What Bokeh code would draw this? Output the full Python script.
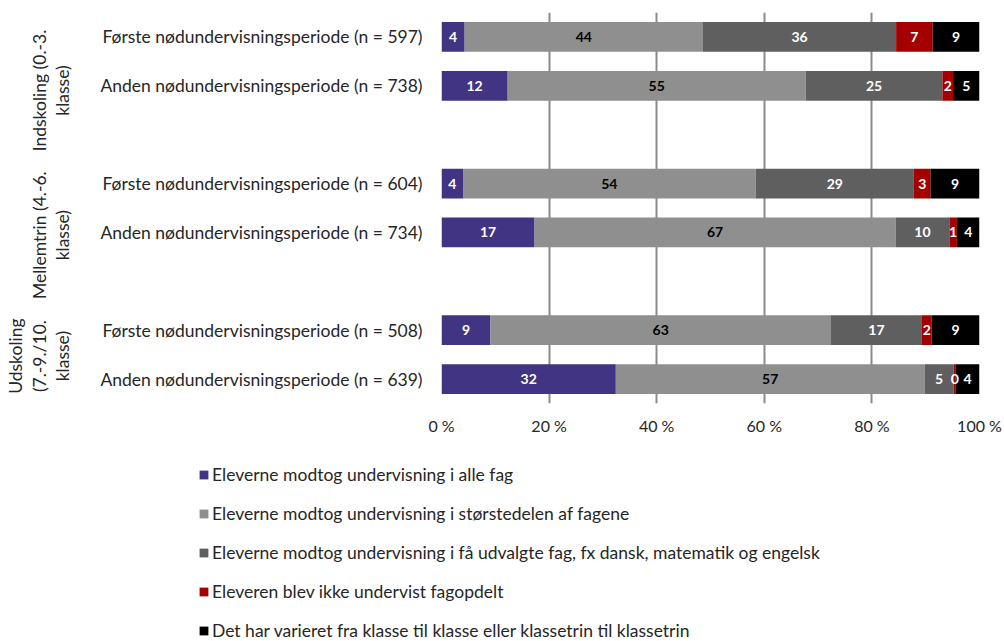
import math
from bokeh.plotting import figure
from bokeh.layouts import row, column
from bokeh.models import (ColumnDataSource, Range1d, FixedTicker, LabelSet,
                          Legend, LegendItem)
from bokeh.embed import file_html
from bokeh.resources import INLINE
from bokeh.core.properties import value

# ---------------- data ----------------
groups = ["Indskoling (0.-3.\nklasse)", "Mellemtrin (4.-6.\nklasse)", "Udskoling\n(7.-9./10.\nklasse)"]
periods = ["Første nødundervisningsperiode", "Anden nødundervisningsperiode"]
n_values = [597, 738, 604, 734, 508, 639]

categories = [
    "Eleverne modtog undervisning i alle fag",
    "Eleverne modtog undervisning i størstedelen af fagene",
    "Eleverne modtog undervisning i få udvalgte fag, fx dansk, matematik og engelsk",
    "Eleveren blev ikke undervist fagopdelt",
    "Det har varieret fra klasse til klasse eller klassetrin til klassetrin",
]
alle_fag = [4.3, 12.3, 4.0, 17.3, 9.1, 32.4]
stoerstedelen = [44.3, 55.4, 54.4, 67.1, 63.3, 57.4]
faa_fag = [35.9, 25.4, 29.4, 10.0, 16.9, 5.4]
ikke_fagopdelt = [6.8, 2.0, 3.1, 1.4, 1.8, 0.4]
varieret = [8.7, 4.9, 9.1, 4.2, 8.9, 4.4]

x_ticks = [0, 20, 40, 60, 80, 100]
x_tick_labels = ["0 %", "20 %", "40 %", "60 %", "80 %", "100 %"]

colors = ["#413482", "#8f8f8f", "#5f5f5f", "#a50000", "#000000"]
label_colors = ["white", "black", "white", "white", "white"]
series = [alle_fag, stoerstedelen, faa_fag, ikke_fagopdelt, varieret]
keys = ["s0", "s1", "s2", "s3", "s4"]

# group label anchor positions along the category axis (layout only)
group_label_y = [0.9, 3.95, 6.5]

FONT = "Lato"
TXT = "#262626"

# ---------------- derived ----------------
ypos = [g * 3 + r for g in range(len(groups)) for r in range(2)]
row_labels = [f"{periods[i % 2]} (n = {n})" for i, n in enumerate(n_values)]

data = {"y": ypos}
for k, s in zip(keys, series):
    data[k] = s
source = ColumnDataSource(data)

lx, ly, lt, lc = [], [], [], []
cum = [0.0] * len(ypos)
for s, col in zip(series, label_colors):
    for i, v in enumerate(s):
        lx.append(cum[i] + v / 2)
        ly.append(ypos[i])
        lt.append(f"{v:.0f}")
        lc.append(col)
        cum[i] += v
lab_src = ColumnDataSource(dict(x=lx, y=ly, text=lt, color=lc))

TOP, BOTTOM, MAIN_H = 12, 38, 441
Y0, Y1 = 7.5, -0.5

# ---------------- main figure ----------------
p = figure(width=914, height=MAIN_H, output_backend="svg", toolbar_location=None,
           x_range=Range1d(0, 100), y_range=Range1d(Y0, Y1),
           min_border_left=351, min_border_right=25, min_border_top=TOP,
           min_border_bottom=BOTTOM)
p.outline_line_color = None

renderers = p.hbar_stack(keys, y="y", height=0.61, color=colors, line_color=None,
                         source=source)

labels = LabelSet(x="x", y="y", text="text", source=lab_src, text_color="color",
                  text_align="center", text_baseline="middle",
                  text_font=value(FONT), text_font_size="14px", text_font_style="bold")
p.add_layout(labels)

p.xaxis.ticker = FixedTicker(ticks=x_ticks)
p.xaxis.major_label_overrides = {t: l for t, l in zip(x_ticks, x_tick_labels)}
p.xaxis.axis_line_color = None
p.xaxis.major_tick_line_color = None
p.xaxis.minor_tick_line_color = None
p.xaxis.major_label_standoff = 6
p.xaxis.major_label_text_font = FONT
p.xaxis.major_label_text_font_size = "16px"
p.xaxis.major_label_text_color = TXT

p.yaxis.ticker = FixedTicker(ticks=ypos)
p.yaxis.major_label_overrides = {y: l for y, l in zip(ypos, row_labels)}
p.yaxis.axis_line_color = None
p.yaxis.major_tick_line_color = None
p.yaxis.minor_tick_line_color = None
p.yaxis.major_label_standoff = 13
p.yaxis.major_label_text_font = FONT
p.yaxis.major_label_text_font_size = "17.5px"
p.yaxis.major_label_text_color = TXT

p.xgrid.ticker = FixedTicker(ticks=x_ticks)
p.xgrid.grid_line_color = "#8a8a8a"
p.xgrid.grid_line_width = 2
p.ygrid.grid_line_color = None
p.xgrid.level = "underlay"

# ---------------- group-label strip (left) ----------------
frame_h = MAIN_H - TOP - BOTTOM
unit_px = frame_h / (Y0 - Y1)
g = figure(width=90, height=MAIN_H, output_backend="svg", toolbar_location=None,
           x_range=Range1d(0, 90), y_range=Range1d(Y0, Y1 - TOP / unit_px),
           x_axis_location=None, y_axis_location=None,
           min_border_left=0, min_border_right=0, min_border_top=0,
           min_border_bottom=BOTTOM)
g.outline_line_color = None
g.xgrid.visible = False
g.ygrid.visible = False
gsrc = ColumnDataSource(dict(x=[73] * len(groups), y=group_label_y, text=groups))
g.text(x="x", y="y", text="text", source=gsrc, angle=math.pi / 2,
       text_align="center", text_baseline="bottom", text_font=value(FONT),
       text_font_size="17.5px", text_color=TXT, text_line_height=1.12)

# ---------------- legend strip (bottom) ----------------
lg = figure(width=1004, height=200, output_backend="svg", toolbar_location=None,
            x_range=Range1d(0, 1), y_range=Range1d(0, 1),
            x_axis_location=None, y_axis_location=None,
            min_border_left=0, min_border_right=0, min_border_top=0,
            min_border_bottom=0)
lg.outline_line_color = None
lg.xgrid.visible = False
lg.ygrid.visible = False
# swatch-only renderers, placed outside the visible range
leg_renderers = [lg.hbar(y=[-5], left=[0], right=[1], height=1, color=c, line_color=None)
                 for c in colors]
legend = Legend(items=[LegendItem(label=c, renderers=[r]) for c, r in zip(categories, leg_renderers)],
                location=(198, 0), orientation="vertical",
                glyph_width=11, glyph_height=11, label_height=16, spacing=18,
                padding=0, margin=0, border_line_color=None, background_fill_alpha=0,
                label_text_font=FONT, label_text_font_size="17.5px",
                label_text_color=TXT, label_standoff=3)
lg.add_layout(legend)

layout = column(row(g, p), lg)
open("out.html", "w").write(file_html(layout, INLINE))
